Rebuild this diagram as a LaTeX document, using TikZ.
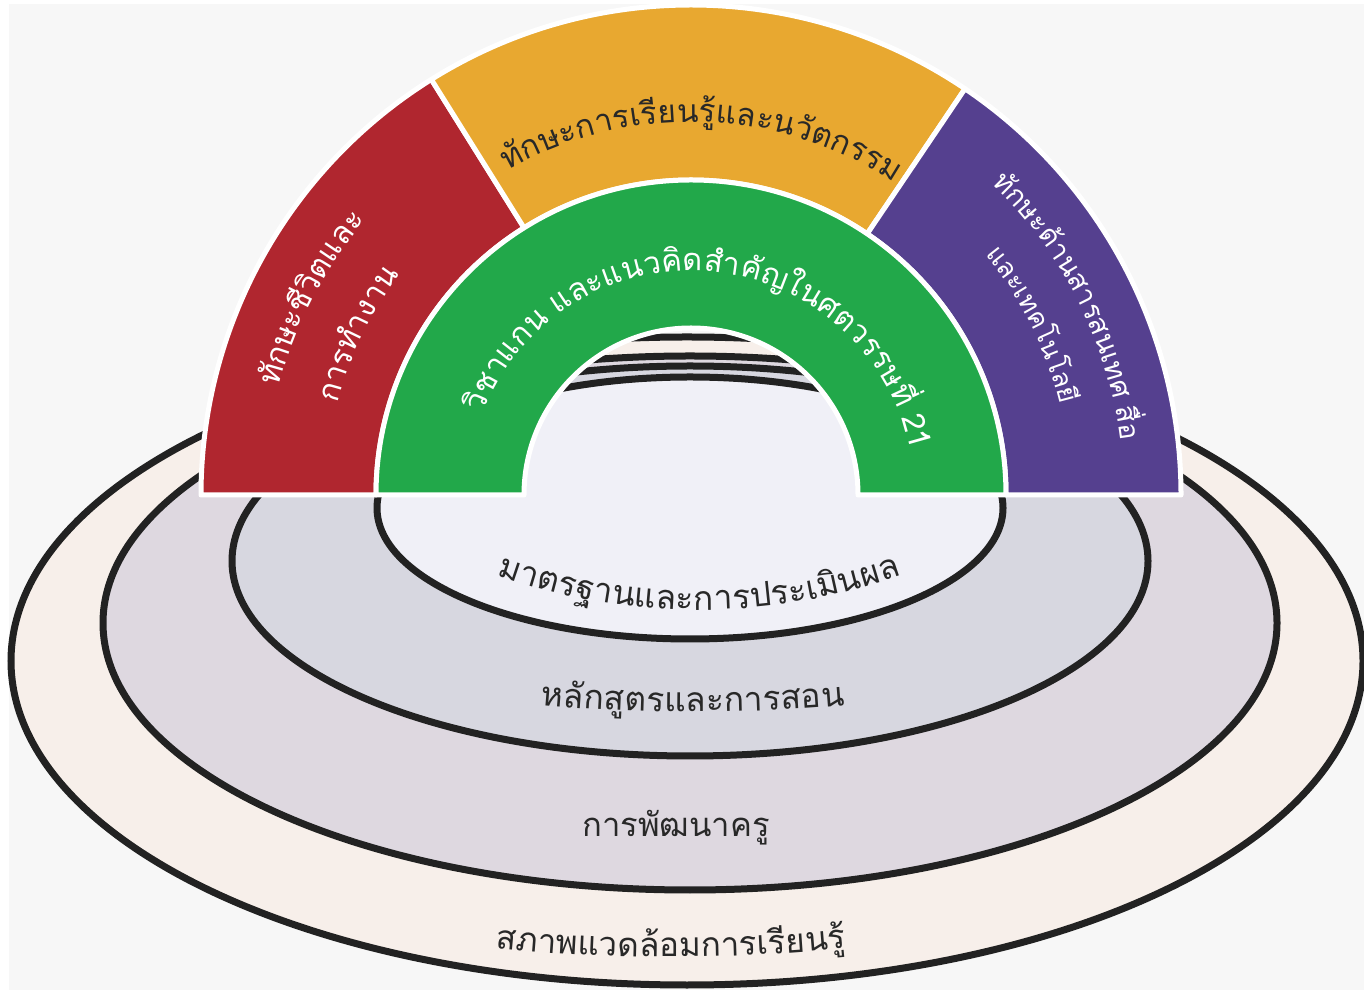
\documentclass[tikz,border=0pt]{standalone}
\usepackage{fontspec}
\newfontfamily\thaifont[Script=Thai]{Loma}
\usetikzlibrary{calc}
\definecolor{bgcol}{RGB}{247,247,247}
\definecolor{redcol}{RGB}{176,38,47}
\definecolor{yellowcol}{RGB}{232,168,48}
\definecolor{purplecol}{RGB}{85,64,143}
\definecolor{greencol}{RGB}{34,168,74}
\definecolor{envcol}{RGB}{247,239,234}
\definecolor{devcol}{RGB}{222,216,224}
\definecolor{curcol}{RGB}{215,215,224}
\definecolor{stdcol}{RGB}{240,240,247}
\definecolor{linecol}{RGB}{34,34,34}
\definecolor{txtcol}{RGB}{40,40,40}

\def\lblsize{16}
\newcommand\lbl{\thaifont\fontsize{\lblsize}{\lblsize}\selectfont}
\newcommand\gp{\hspace*{0.3em}}
\newdimen\cw
% measure the letter clusters of a label (outside the picture)
% #1 label name, #2 font size, #3 letter clusters
\newcommand\measure[3]{%
  \def\lblsize{#2}%
  \expandafter\xdef\csname #1size\endcsname{#2}%
  \gdef\totw{0}\gdef\lst{}%
  \foreach \cl in {#3}{%
    \setbox0\hbox{\lbl\cl}\global\cw=\wd0
    \pgfmathsetmacro\tmp{\totw+\the\cw}%
    \global\let\totw\tmp
    \pgfmathsetmacro\wn{\the\cw}%
    \ifx\lst\empty
      \xdef\lst{\unexpanded\expandafter{\cl}/\wn}%
    \else
      \xdef\lst{\unexpanded\expandafter{\lst},\unexpanded\expandafter{\cl}/\wn}%
    \fi}%
  \global\expandafter\let\csname #1list\endcsname\lst
  \global\expandafter\let\csname #1tot\endcsname\totw}
% #1 node options, #2 names, #3 centre, #4 baseline radius, #5 mid angle,
% #6 1 = over the top, -1 = under the bottom, #7 measured label
\newcommand\arctext[7]{%
  \edef\lblsize{\csname #7size\endcsname}%
  \pgfmathsetmacro\tmp{#5+(#6)*\csname #7tot\endcsname/(#4*0.5)*90/pi}%
  \global\let\ang\tmp
  \expandafter\let\expandafter\arclist\csname #7list\endcsname
  \foreach \cl/\wn [count=\i] in \arclist {%
    \pgfmathsetmacro\st{\wn/(#4*0.5)*180/pi}%
    \pgfmathsetmacro\ca{\ang-(#6)*\st/2}%
    \node (#2-\i) at ($(#3)+(\ca:#4)$) [anchor=base,inner sep=0pt,rotate=\ca-(#6)*90,#1] {\lbl\cl};
    \pgfmathsetmacro\tmp{\ang-(#6)*\st}%
    \global\let\ang\tmp}%
}

\tikzset{
  ring/.style={draw=linecol,line width=3.5pt},
  sector/.style={draw=white,line width=2.5pt,line join=round},
}

\begin{document}
\measure{learn}{15.8}{ทั,ก,ษ,ะ,ก,า,ร,เ,รี,ย,น,รู้,แ,ล,ะ,น,วั,ต,ก,ร,ร,ม}%
\measure{lifea}{15.5}{ทั,ก,ษ,ะ,ชี,วิ,ต,แ,ล,ะ}%
\measure{lifeb}{15.5}{ก,า,ร,ทำ,ง,า,น}%
\measure{infoa}{14}{ทั,ก,ษ,ะ,ด้,า,น,ส,า,ร,ส,น,เ,ท,ศ,\gp,สื่,อ}%
\measure{infob}{13.2}{แ,ล,ะ,เ,ท,ค,โ,น,โ,ล,ยี}%
\measure{core}{15.5}{วิ,ช,า,แ,ก,น,\gp,แ,ล,ะ,แ,น,ว,คิ,ด,สำ,คั,ญ,ใ,น,ศ,ต,ว,ร,ร,ษ,ที่,\gp,21}%
\measure{std}{16.8}{ม,า,ต,ร,ฐ,า,น,แ,ล,ะ,ก,า,ร,ป,ร,ะ,เ,มิ,น,ผ,ล}%
\measure{cur}{16.8}{ห,ลั,ก,สู,ต,ร,แ,ล,ะ,ก,า,ร,ส,อ,น}%
\measure{env}{16.6}{ส,ภ,า,พ,แ,ว,ด,ล้,อ,ม,ก,า,ร,เ,รี,ย,น,รู้}%
\begin{tikzpicture}[x=0.5pt,y=0.5pt]
\useasboundingbox (0,0) rectangle (1364,990);
\fill[bgcol] (9,0) rectangle (1364,986);
%% the four rings
\draw[ring,fill=envcol] (687,329) ellipse [x radius=676,y radius=324];
\draw[ring,fill=devcol] (690,367) ellipse [x radius=587,y radius=267];
\draw[ring,fill=curcol] (690,429) ellipse [x radius=458,y radius=195];
\draw[ring,fill=stdcol] (690,482) ellipse [x radius=313,y radius=131];
%% the arch
\coordinate (ctr) at (691,495);
\path[sector,fill=redcol] ($(ctr)+(180:490)$) arc[start angle=180,end angle=122,radius=490]
  -- ($(ctr)+(122:315)$) arc[start angle=122,end angle=180,radius=315] -- cycle;
\path[sector,fill=yellowcol] ($(ctr)+(122:490)$) arc[start angle=122,end angle=56,radius=490]
  -- ($(ctr)+(56:315)$) arc[start angle=56,end angle=122,radius=315] -- cycle;
\path[sector,fill=purplecol] ($(ctr)+(56:490)$) arc[start angle=56,end angle=0,radius=490]
  -- ($(ctr)+(0:315)$) arc[start angle=0,end angle=56,radius=315] -- cycle;
\path[sector,fill=greencol] ($(ctr)+(180:315)$) arc[start angle=180,end angle=0,radius=315]
  -- ($(ctr)+(0:167)$) arc[start angle=0,end angle=180,radius=167] -- cycle;
%% labels on the arch
\arctext{text=txtcol}{learn}{ctr}{373}{88.2}{1}{learn}
\arctext{text=white}{lifea}{ctr}{426}{152.5}{1}{lifea}
\arctext{text=white}{lifeb}{ctr}{365}{154.2}{1}{lifeb}
\arctext{text=white}{infoa}{ctr}{433}{26.6}{1}{infoa}
\arctext{text=white}{infob}{ctr}{380}{26.5}{1}{infob}
\arctext{text=white}{core}{ctr}{224}{85}{1}{core}
%% labels on the rings
\coordinate (stdc) at (699,984);
\coordinate (curc) at (693,2078);
\coordinate (envc) at (671,1833);
\arctext{text=txtcol}{std}{stdc}{604}{270}{-1}{std}
\arctext{text=txtcol}{cur}{curc}{1800}{270}{-1}{cur}
\node (dev) at (676,153) [anchor=base,inner sep=0pt,text=txtcol] {\def\lblsize{16.4}\lbl การพัฒนาครู};
\arctext{text=txtcol}{env}{envc}{1800}{270}{-1}{env}
%
\end{tikzpicture}
\end{document}
